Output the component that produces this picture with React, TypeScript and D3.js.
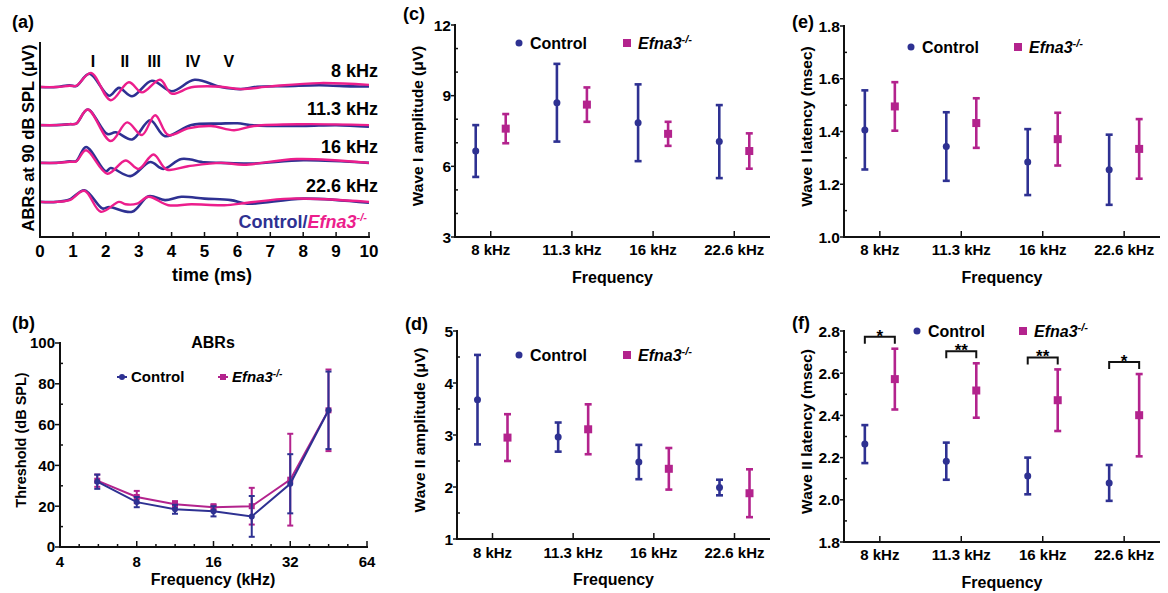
import React from 'react';
import * as d3 from 'd3';

const BLUE = '#2e3192';
const PINK = '#ec1e8c';
const MAG = '#b3238d';
const FONT = '"Liberation Sans", Arial, Helvetica, sans-serif';

// ---- (a) ABR traces at 90 dB SPL: [time ms, amplitude µV] relative to trace baseline
const waveFreqs = ['8 kHz', '11.3 kHz', '16 kHz', '22.6 kHz'];
const waveBaselines = [50, 37.3, 24.7, 11.7];
const wavePeakNames = ['I', 'II', 'III', 'IV', 'V'];
const wavePeakTimes = [1.61, 2.58, 3.47, 4.65, 5.74];
const timeTicks = [0, 1, 2, 3, 4, 5, 6, 7, 8, 9, 10];

const ctl8 = [[0, 0], [0.5, 0], [0.9, 0.6], [1.1, 0.3], [1.5, 4.4], [2.1, -2.9], [2.4, -0.3], [2.8, -3.1], [3.4, 2.1], [4.0, -1.4], [4.7, 2.4], [5.5, 0], [6.1, -0.7], [6.6, 0.1], [7.5, 0.3], [8.5, 0.6], [9.5, 0.2], [10, 0.2]];
const efna8 = [[0, 0], [0.5, 0], [0.9, 0.4], [1.1, 0.4], [1.55, 4.7], [2.15, -4.4], [2.7, 1.6], [3.1, -1.8], [3.65, 2.4], [4.0, -2.2], [4.6, -0.1], [5.5, 0.1], [6.1, -0.7], [7, 0.2], [8.5, 1.3], [10, 0.7]];
const ctl11 = [[0, 0], [0.5, 0], [0.9, 0.3], [1.1, 0.5], [1.45, 5.2], [2.05, -3.0], [2.3, -2.4], [2.8, -4.8], [3.35, 1.6], [3.8, -3.7], [4.6, 0], [5.5, 0.5], [6, 0.6], [6.5, -0.1], [8, -0.3], [9, 0], [10, -0.5]];
const efna11 = [[0, 0], [0.5, 0], [0.9, 0.3], [1.1, 0.5], [1.45, 5.2], [2.15, -5.3], [2.65, 0.9], [3.1, -3.3], [3.5, 3.3], [3.9, -3.3], [4.5, -1.1], [5.2, -0.3], [5.9, -1.7], [6.5, -0.3], [8, 0.3], [10, 0]];
const ctl16 = [[0, 0], [0.5, 0], [0.9, 0.5], [1.1, 0.6], [1.4, 5.3], [2.0, -2.8], [2.15, -1.7], [2.75, -4.4], [3.35, 0.3], [3.75, -2], [4.3, 1.3], [5, 0.2], [5.5, 0], [6.5, -0.2], [8, 0.9], [10, 0]];
const efna16 = [[0, 0], [0.5, 0], [0.9, 0.4], [1.1, 0.5], [1.4, 4.2], [2.05, -3.6], [2.6, 0.8], [3.0, -2], [3.45, 2.8], [3.85, -2.2], [4.5, -1.1], [5.5, 0], [6.2, -0.6], [7.8, 1.3], [10, 0]];
const ctl22 = [[0, 0], [0.5, 0], [0.9, 0.8], [1.35, 3.9], [1.9, -2.2], [2.1, -1.7], [2.8, -3.3], [3.3, 1.9], [3.8, 0.6], [4.3, 1.7], [5, 1.1], [5.8, 0.6], [6.3, -0.6], [8, 1.1], [10, -0.3]];
const efna22 = [[0, 0], [0.5, 0], [0.9, 0.6], [1.35, 3.7], [1.85, -3.3], [2.4, 0], [2.6, -0.8], [2.95, -0.6], [3.3, 1.7], [3.9, -1.1], [4.6, -0.8], [5.6, -1.1], [6.3, -0.3], [7.6, 1.1], [10, 0]];
const ctlTraces = [ctl8, ctl11, ctl16, ctl22];
const efnaTraces = [efna8, efna11, efna16, efna22];

// ---- (b) thresholds
const thrFreqs = [5.6, 8, 11.3, 16, 22.6, 32, 45.2];
const thrCtl = [32, 22, 18.5, 17.5, 15, 31, 67];
const thrCtlErr = [3.5, 2.5, 2.2, 2.5, 10, 14.5, 19];
const thrEfna = [32.5, 24.5, 21, 19.5, 20, 33, 67];
const thrEfnaErr = [3, 3, 1.5, 1.5, 9, 22.5, 20];
const thrXTicks = [4, 8, 16, 32, 64];
const thrYTicks = [0, 20, 40, 60, 80, 100];

// ---- (c)-(f)
const freqCats = ['8 kHz', '11.3 kHz', '16 kHz', '22.6 kHz'];
const amp1Ctl = [6.65, 8.7, 7.85, 7.05];
const amp1CtlErr = [1.1, 1.65, 1.63, 1.55];
const amp1Efna = [7.6, 8.62, 7.38, 6.65];
const amp1EfnaErr = [0.62, 0.73, 0.51, 0.75];
const amp2Ctl = [3.68, 2.96, 2.48, 1.99];
const amp2CtlErr = [0.86, 0.28, 0.33, 0.15];
const amp2Efna = [2.95, 3.11, 2.35, 1.88];
const amp2EfnaErr = [0.45, 0.48, 0.4, 0.46];
const lat1Ctl = [1.406, 1.343, 1.284, 1.255];
const lat1CtlErr = [0.15, 0.13, 0.125, 0.133];
const lat1Efna = [1.495, 1.432, 1.371, 1.334];
const lat1EfnaErr = [0.092, 0.094, 0.1, 0.113];
const lat2Ctl = [2.264, 2.183, 2.113, 2.08];
const lat2CtlErr = [0.09, 0.088, 0.087, 0.085];
const lat2Efna = [2.572, 2.518, 2.472, 2.401];
const lat2EfnaErr = [0.144, 0.129, 0.146, 0.195];
const lat2Sig = ['*', '**', '**', '*'];

function Efna({ size, sup }) {
  return (
    <>
      <tspan fontStyle="italic">Efna3</tspan>
      <tspan fontStyle="italic" fontSize={sup} dy={-size * 0.38}>-/-</tspan>
    </>
  );
}

function PanelA() {
  const x = d3.scaleLinear().domain([0, 10]).range([40, 369]);
  const y = d3.scaleLinear().domain([0, 65]).range([237, 42]);
  const mk = (base) => d3.line().x(d => x(d[0])).y(d => y(base + d[1])).curve(d3.curveCatmullRom.alpha(0.5));
  return (
    <g fontFamily={FONT} fontWeight="bold">
      <text x={12} y={28} fontSize={18}>(a)</text>
      {waveBaselines.map((b, i) => (
        <g key={i}>
          <path d={mk(b)(ctlTraces[i])} fill="none" stroke={BLUE} strokeWidth={2.6} strokeLinejoin="round" />
          <path d={mk(b)(efnaTraces[i])} fill="none" stroke={PINK} strokeWidth={2.4} strokeLinejoin="round" />
          <text x={378} y={y(b) - 10} textAnchor="end" fontSize={18}>{waveFreqs[i]}</text>
        </g>
      ))}
      {wavePeakNames.map((n, i) => (
        <text key={n} x={x(wavePeakTimes[i])} y={67} textAnchor="middle" fontSize={16}>{n}</text>
      ))}
      <line x1={40} x2={40} y1={42} y2={238} stroke="#111" strokeWidth={2} />
      <line x1={39} x2={370} y1={237} y2={237} stroke="#111" strokeWidth={2} />
      {timeTicks.map(t => (
        <g key={t}>
          <line x1={x(t)} x2={x(t)} y1={237} y2={232} stroke="#111" strokeWidth={1.5} />
          <text x={x(t)} y={257} textAnchor="middle" fontSize={17}>{t}</text>
        </g>
      ))}
      <text x={212} y={281} textAnchor="middle" fontSize={18}>time (ms)</text>
      <text transform="translate(28,138) rotate(-90)" textAnchor="middle" dy="0.35em" fontSize={16.5}>ABRs at 90 dB SPL (μV)</text>
      <text x={367} y={228} textAnchor="end" fontSize={18}>
        <tspan fill={BLUE}>Control/</tspan>
        <tspan fill={PINK}><Efna size={18} sup={11} /></tspan>
      </text>
    </g>
  );
}

function Marker({ kind, cx, cy, s, color }) {
  if (kind === 'circle') return <circle cx={cx} cy={cy} r={s / 2} fill={color} />;
  return <rect x={cx - s / 2} y={cy - s / 2} width={s} height={s} fill={color} />;
}

function ErrBar({ cx, y0, y1, cap, color, w }) {
  return (
    <g stroke={color} strokeWidth={w}>
      <line x1={cx} x2={cx} y1={y0} y2={y1} />
      <line x1={cx - cap / 2} x2={cx + cap / 2} y1={y0} y2={y0} />
      <line x1={cx - cap / 2} x2={cx + cap / 2} y1={y1} y2={y1} />
    </g>
  );
}

function PanelB() {
  const x = d3.scaleLog().base(2).domain([4, 64]).range([60, 367]);
  const y = d3.scaleLinear().domain([0, 100]).range([547, 343]);
  const minorX = d3.range(0, 16).filter(i => i % 4 !== 0).map(i => 4 * Math.pow(2, i / 4));
  const minorY = d3.range(10, 100, 20);
  const line = d3.line().x(d => x(d[0])).y(d => y(d[1]));
  const series = [
    { vals: thrEfna, err: thrEfnaErr, color: MAG, kind: 'rect', name: 'efna' },
    { vals: thrCtl, err: thrCtlErr, color: BLUE, kind: 'circle', name: 'ctl' },
  ];
  return (
    <g fontFamily={FONT} fontWeight="bold">
      <text x={12} y={329} fontSize={18}>(b)</text>
      <text x={213} y={348} textAnchor="middle" fontSize={16}>ABRs</text>
      {series.map(s => (
        <g key={s.name}>
          <path d={line(thrFreqs.map((f, i) => [f, s.vals[i]]))} fill="none" stroke={s.color} strokeWidth={2} />
          {thrFreqs.map((f, i) => (
            <g key={i}>
              <ErrBar cx={x(f)} y0={y(s.vals[i] + s.err[i])} y1={y(s.vals[i] - s.err[i])} cap={6} color={s.color} w={2} />
              <Marker kind={s.kind} cx={x(f)} cy={y(s.vals[i])} s={6} color={s.color} />
            </g>
          ))}
        </g>
      ))}
      <line x1={60} x2={60} y1={342} y2={548} stroke="#111" strokeWidth={2} />
      <line x1={59} x2={368} y1={547} y2={547} stroke="#111" strokeWidth={2} />
      {thrYTicks.map(t => (
        <g key={t}>
          <line x1={55} x2={60} y1={y(t)} y2={y(t)} stroke="#111" strokeWidth={1.5} />
          <text x={55} y={y(t)} dy="0.36em" textAnchor="end" fontSize={15}>{t}</text>
        </g>
      ))}
      {minorY.map(t => <line key={t} x1={60} x2={63} y1={y(t)} y2={y(t)} stroke="#111" strokeWidth={1.5} />)}
      {thrXTicks.map(t => (
        <g key={t}>
          <line x1={x(t)} x2={x(t)} y1={547} y2={541} stroke="#111" strokeWidth={1.5} />
          <text x={x(t)} y={562} dy="0.36em" textAnchor="middle" fontSize={15}>{t}</text>
        </g>
      ))}
      {minorX.map(t => <line key={t} x1={x(t)} x2={x(t)} y1={547} y2={544} stroke="#111" strokeWidth={1.5} />)}
      <text x={213} y={585} textAnchor="middle" fontSize={16}>Frequency (kHz)</text>
      <text transform="translate(21,440) rotate(-90)" textAnchor="middle" dy="0.35em" fontSize={14.5}>Threshold (dB SPL)</text>
      <g>
        <line x1={117} x2={127} y1={377} y2={377} stroke={BLUE} strokeWidth={2} />
        <Marker kind="circle" cx={122} cy={377} s={6} color={BLUE} />
        <text x={131} y={377} dy="0.36em" fontSize={15}>Control</text>
        <line x1={218} x2={228} y1={377} y2={377} stroke={MAG} strokeWidth={2} />
        <Marker kind="rect" cx={223} cy={377} s={6} color={MAG} />
        <text x={232} y={377} dy="0.36em" fontSize={15}><Efna size={15} sup={10} /></text>
      </g>
    </g>
  );
}

function CatPanel({ label, labelY, axisX, right, yTop, yBot, domain, major, minor, fmt, yLabel, legendY, legendCtlX, legendEfnaX, tickY, titleY, ctl, ctlErr, efna, efnaErr, sig }) {
  const x = d3.scalePoint().domain(freqCats).range([axisX, right]).padding(0.44);
  const off = d3.scalePoint().domain(['ctl', 'efna']).range([-15, 15]);
  const y = d3.scaleLinear().domain(domain).range([yBot, yTop]);
  const majors = d3.range(domain[0], domain[1] + major / 2, major);
  const minors = d3.range(domain[0] + minor, domain[1], minor).filter(v => Math.abs(v / major - Math.round(v / major)) > 1e-6);
  const series = [
    { key: 'ctl', vals: ctl, err: ctlErr, color: BLUE, kind: 'circle', s: 7 },
    { key: 'efna', vals: efna, err: efnaErr, color: MAG, kind: 'rect', s: 8 },
  ];
  return (
    <g fontFamily={FONT} fontWeight="bold">
      <text x={axisX - 52} y={labelY} fontSize={18}>{label}</text>
      {series.map(s => freqCats.map((c, i) => {
        const cx = x(c) + off(s.key);
        return (
          <g key={s.key + i}>
            <ErrBar cx={cx} y0={y(s.vals[i] + s.err[i])} y1={y(s.vals[i] - s.err[i])} cap={7} color={s.color} w={2.6} />
            <Marker kind={s.kind} cx={cx} cy={y(s.vals[i])} s={s.s} color={s.color} />
          </g>
        );
      }))}
      {sig && freqCats.map((c, i) => {
        const x0 = x(c) + off('ctl');
        const x1 = x(c) + off('efna');
        const by = y(efna[i] + efnaErr[i]) - 12;
        return (
          <g key={'sig' + i}>
            <path d={`M${x0},${by + 7}V${by}H${x1}V${by + 7}`} fill="none" stroke="#111" strokeWidth={2} />
            <text x={(x0 + x1) / 2} y={by + 5} textAnchor="middle" fontSize={17}>{sig[i]}</text>
          </g>
        );
      })}
      <line x1={axisX} x2={axisX} y1={yTop - 1} y2={yBot + 1} stroke="#111" strokeWidth={2} />
      <line x1={axisX - 1} x2={right} y1={yBot} y2={yBot} stroke="#111" strokeWidth={2} />
      {majors.map(t => (
        <g key={t}>
          <line x1={axisX - 4} x2={axisX} y1={y(t)} y2={y(t)} stroke="#111" strokeWidth={1.5} />
          <text x={axisX - 4} y={y(t)} dy="0.36em" textAnchor="end" fontSize={15.5}>{fmt(t)}</text>
        </g>
      ))}
      {minors.map(t => <line key={t} x1={axisX} x2={axisX + 3} y1={y(t)} y2={y(t)} stroke="#111" strokeWidth={1.5} />)}
      {freqCats.map(c => (
        <g key={c}>
          <line x1={x(c)} x2={x(c)} y1={yBot} y2={yBot - 6} stroke="#111" strokeWidth={1.5} />
          <text x={x(c)} y={tickY} textAnchor="middle" fontSize={15}>{c}</text>
        </g>
      ))}
      <text x={(axisX + right) / 2 + 0} y={titleY} textAnchor="middle" fontSize={16}>Frequency</text>
      <text transform={`translate(${axisX - 37},${(yTop + yBot) / 2 - 5}) rotate(-90)`} textAnchor="middle" dy="0.35em" fontSize={15.5}>{yLabel}</text>
      <Marker kind="circle" cx={legendCtlX} cy={legendY} s={7} color={BLUE} />
      <text x={legendCtlX + 11} y={legendY} dy="0.36em" fontSize={16}>Control</text>
      <Marker kind="rect" cx={legendEfnaX} cy={legendY} s={8} color={MAG} />
      <text x={legendEfnaX + 11} y={legendY} dy="0.36em" fontSize={16}><Efna size={16} sup={11} /></text>
    </g>
  );
}

export default function App() {
  const f1 = d3.format('d');
  const f2 = d3.format('.1f');
  return (
    <svg width={1168} height={593} style={{ position: 'absolute', left: 0, top: 0, background: '#fff' }}>
      <rect width={1168} height={593} fill="#fff" />
      <PanelA />
      <PanelB />
      <CatPanel label="(c)" labelY={20} axisX={455} right={770} yTop={25} yBot={237} domain={[3, 12]} major={3} minor={1} fmt={f1}
        yLabel="Wave I amplitude (μV)" legendY={43} legendCtlX={519} legendEfnaX={627} tickY={255} titleY={283}
        ctl={amp1Ctl} ctlErr={amp1CtlErr} efna={amp1Efna} efnaErr={amp1EfnaErr} />
      <CatPanel label="(d)" labelY={330} axisX={457} right={770} yTop={331} yBot={539} domain={[1, 5]} major={1} minor={0.5} fmt={f1}
        yLabel="Wave II amplitude (μV)" legendY={355} legendCtlX={519} legendEfnaX={627} tickY={558} titleY={585}
        ctl={amp2Ctl} ctlErr={amp2CtlErr} efna={amp2Efna} efnaErr={amp2EfnaErr} />
      <CatPanel label="(e)" labelY={28} axisX={844} right={1160} yTop={26} yBot={237} domain={[1, 1.8]} major={0.2} minor={0.1} fmt={f2}
        yLabel="Wave I latency (msec)" legendY={47} legendCtlX={911} legendEfnaX={1018} tickY={255} titleY={283}
        ctl={lat1Ctl} ctlErr={lat1CtlErr} efna={lat1Efna} efnaErr={lat1EfnaErr} />
      <CatPanel label="(f)" labelY={329} axisX={844} right={1160} yTop={331} yBot={542} domain={[1.8, 2.8]} major={0.2} minor={0.1} fmt={f2}
        yLabel="Wave II latency (msec)" legendY={331} legendCtlX={917} legendEfnaX={1023} tickY={560} titleY={588}
        ctl={lat2Ctl} ctlErr={lat2CtlErr} efna={lat2Efna} efnaErr={lat2EfnaErr} sig={lat2Sig} />
    </svg>
  );
}
